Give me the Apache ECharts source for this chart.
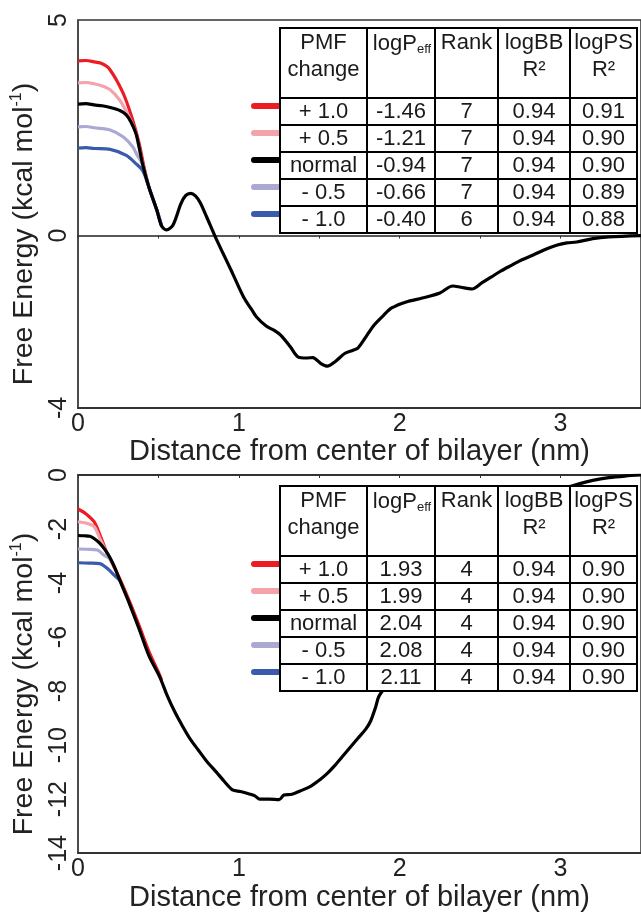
<!DOCTYPE html>
<html>
<head>
<meta charset="utf-8">
<script src="https://cdn.jsdelivr.net/npm/echarts@6/dist/echarts.min.js"></script>
<style>
  html, body { margin: 0; padding: 0; background: #fff; }
  #main { width: 641px; height: 913px; }
</style>
</head>
<body>
<div id="main"></div>
<script>
// ---- curves, [distance nm, free energy kcal/mol] ----
// top panel
const topNormal = [[0,3.05],[0.05,3.06],[0.1,3.03],[0.15,3.01],[0.2,2.97],[0.26,2.9],[0.3,2.8],[0.33,2.63],[0.36,2.37],[0.38,2.05],[0.4,1.68],[0.44,1.13],[0.49,0.59],[0.52,0.22],[0.55,0.13],[0.59,0.24],[0.64,0.74],[0.67,0.93],[0.7,0.98],[0.73,0.92],[0.76,0.76],[0.8,0.43],[0.85,0.0],[0.9,-0.4],[0.96,-0.87],[1.03,-1.43],[1.08,-1.72],[1.11,-1.89],[1.17,-2.1],[1.22,-2.2],[1.26,-2.31],[1.32,-2.58],[1.37,-2.82],[1.42,-2.84],[1.46,-2.83],[1.51,-2.97],[1.55,-3.03],[1.6,-2.92],[1.66,-2.73],[1.71,-2.66],[1.74,-2.61],[1.79,-2.35],[1.84,-2.08],[1.9,-1.85],[1.95,-1.68],[2.04,-1.54],[2.14,-1.45],[2.25,-1.33],[2.33,-1.17],[2.38,-1.2],[2.45,-1.24],[2.51,-1.1],[2.57,-0.96],[2.63,-0.82],[2.7,-0.68],[2.76,-0.56],[2.83,-0.45],[2.9,-0.33],[2.98,-0.22],[3.04,-0.17],[3.1,-0.15],[3.2,-0.07],[3.3,-0.03],[3.5,0]];
const topPlus10 = [[0,4.05],[0.05,4.06],[0.1,4.03],[0.14,4.0],[0.18,3.92],[0.2,3.84],[0.24,3.6],[0.29,3.22],[0.34,2.68],[0.38,2.14],[0.41,1.6],[0.44,1.13],[0.49,0.59],[0.52,0.22]];
const topPlus05 = [[0,3.54],[0.05,3.55],[0.1,3.52],[0.15,3.47],[0.2,3.38],[0.26,3.14],[0.3,2.88],[0.33,2.65],[0.36,2.37],[0.38,2.05],[0.4,1.68],[0.44,1.13],[0.49,0.59],[0.52,0.22]];
const topMinus05 = [[0,2.52],[0.05,2.53],[0.1,2.5],[0.2,2.45],[0.28,2.29],[0.34,2.06],[0.37,1.85],[0.4,1.66],[0.44,1.13],[0.49,0.59],[0.52,0.22]];
const topMinus10 = [[0,2.03],[0.05,2.04],[0.1,2.02],[0.2,2.0],[0.3,1.86],[0.36,1.67],[0.4,1.52],[0.42,1.35],[0.44,1.13],[0.49,0.59],[0.52,0.22]];
// bottom panel
const botNormal = [[0,-2.24],[0.04,-2.25],[0.074,-2.27],[0.1,-2.35],[0.136,-2.53],[0.17,-2.78],[0.2,-3.07],[0.23,-3.45],[0.26,-3.9],[0.32,-4.77],[0.38,-5.7],[0.44,-6.68],[0.51,-7.5],[0.55,-8.1],[0.6,-8.75],[0.65,-9.3],[0.7,-9.8],[0.75,-10.2],[0.8,-10.6],[0.86,-11.0],[0.91,-11.35],[0.96,-11.66],[1.01,-11.72],[1.06,-11.8],[1.1,-11.88],[1.13,-12.0],[1.19,-12.0],[1.25,-12.02],[1.28,-11.85],[1.33,-11.82],[1.38,-11.7],[1.44,-11.55],[1.5,-11.3],[1.55,-11.05],[1.59,-10.8],[1.64,-10.45],[1.69,-10.1],[1.74,-9.75],[1.79,-9.4],[1.82,-9.1],[1.85,-8.6],[1.87,-8.2],[1.91,-7.85],[1.94,-7.6],[2.0,-7.0],[2.1,-6.0],[2.2,-5.0],[2.3,-4.1],[2.4,-3.3],[2.5,-2.6],[2.6,-2.0],[2.7,-1.5],[2.8,-1.1],[2.9,-0.8],[3.0,-0.55],[3.12,-0.32],[3.2,-0.2],[3.3,-0.1],[3.4,-0.04],[3.5,0]];
const botPlus10 = [[0,-1.26],[0.05,-1.44],[0.1,-1.73],[0.14,-2.27],[0.18,-2.89],[0.22,-3.35],[0.26,-3.85],[0.32,-4.68],[0.38,-5.58],[0.44,-6.52],[0.5,-7.3],[0.52,-7.6]];
const botPlus05 = [[0,-1.73],[0.05,-1.78],[0.1,-1.91],[0.136,-2.35],[0.17,-2.78],[0.2,-3.07]];
const botMinus05 = [[0,-2.74],[0.06,-2.75],[0.12,-2.78],[0.16,-2.96],[0.2,-3.12],[0.23,-3.45]];
const botMinus10 = [[0,-3.25],[0.07,-3.26],[0.136,-3.28],[0.19,-3.5],[0.22,-3.68],[0.26,-3.9]];

// ---- table contents ----
const pmfChange = ['+ 1.0', '+ 0.5', 'normal', '- 0.5', '- 1.0'];
const topLogPeff = ['-1.46', '-1.21', '-0.94', '-0.66', '-0.40'];
const topRank = ['7', '7', '7', '7', '6'];
const topLogBB = ['0.94', '0.94', '0.94', '0.94', '0.94'];
const topLogPS = ['0.91', '0.90', '0.90', '0.89', '0.88'];
const botLogPeff = ['1.93', '1.99', '2.04', '2.08', '2.11'];
const botRank = ['4', '4', '4', '4', '4'];
const botLogBB = ['0.94', '0.94', '0.94', '0.94', '0.94'];
const botLogPS = ['0.90', '0.90', '0.90', '0.90', '0.90'];

const colors = ['#ed1c24', '#f5a3aa', '#000000', '#a9a9d4', '#3a5bab'];
const yTopLabels = [5, 0, -4];

const FONT = '"Liberation Sans", Arial, sans-serif';
const chart = echarts.init(document.getElementById('main'));

function curve(data, color, idx, z) {
  return {
    type: 'line', data: data, xAxisIndex: idx * 2, yAxisIndex: idx,
    showSymbol: false, smooth: 0.3, z: z, silent: true,
    lineStyle: { color: color, width: 3.2 }
  };
}

function xAxes(gi) {
  return [{
    gridIndex: gi, type: 'value', min: 0, max: 3.5, interval: 1, position: 'bottom',
    axisLine: { onZero: false, lineStyle: { color: '#333', width: 2 } },
    axisTick: { show: false }, splitLine: { show: false },
    axisLabel: { fontSize: 25, color: '#222', margin: 4, showMaxLabel: false },
    name: 'Distance from center of bilayer (nm)', nameLocation: 'middle', nameGap: gi ? 23 : 26,
    nameTextStyle: { fontSize: 29, color: '#222' }
  }, {
    gridIndex: gi, type: 'value', min: 0, max: 3.5, interval: 0.5, position: 'top',
    axisLine: { onZero: true, lineStyle: { color: '#222', width: 1.5 } },
    axisTick: { inside: true, length: 3, lineStyle: { color: '#333' } },
    axisLabel: { show: false }, splitLine: { show: false }
  }];
}

function yAxis(gi, min, max, interval, fmt) {
  return {
    gridIndex: gi, type: 'value', min: min, max: max, interval: interval,
    axisLine: { onZero: false, lineStyle: { color: '#444', width: 1.5 } },
    axisTick: { show: false }, splitLine: { show: false },
    axisLabel: { rotate: 90, fontSize: 25, color: '#222', margin: 6, formatter: fmt },
    name: '{a|Free Energy (kcal mol}{s|-1}{a|)}', nameLocation: 'middle', nameGap: 32,
    nameTextStyle: {
      color: '#222', padding: [0, 40, 0, 0],
      rich: {
        a: { fontSize: 28.5, lineHeight: 32, color: '#222', fontFamily: FONT },
        s: { fontSize: 16, lineHeight: 18, verticalAlign: 'top', color: '#222', fontFamily: FONT }
      }
    }
  };
}

// table + legend swatches as graphic elements
const colX = [280, 367, 435, 498, 570, 637];
const headH = 70, rowH = 27, txtSize = 22;

function table(top, cols) {
  const els = [];
  const rowTop = i => top + headH + i * rowH;
  // legend swatches
  colors.forEach((c, i) => {
    els.push({ type: 'line', z: 100, shape: { x1: 254, y1: rowTop(i) + 8, x2: 284, y2: rowTop(i) + 8 },
      style: { stroke: c, lineWidth: 6, lineCap: 'round' } });
  });
  // cells
  for (let c = 0; c < 5; c++) {
    const w = colX[c + 1] - colX[c];
    els.push({ type: 'rect', z: 101, shape: { x: colX[c], y: top, width: w, height: headH },
      style: { fill: '#fff', stroke: '#000', lineWidth: 2 } });
    for (let r = 0; r < 5; r++) {
      els.push({ type: 'rect', z: 101, shape: { x: colX[c], y: rowTop(r), width: w, height: rowH },
        style: { fill: '#fff', stroke: '#000', lineWidth: 2 } });
    }
  }
  const cx = c => (colX[c] + colX[c + 1]) / 2;
  const txt = (x, y, t, rich) => ({
    type: 'text', z: 102, x: x, y: y,
    style: { text: t, fontSize: txtSize, fontFamily: FONT, fill: '#1a1a1a', align: 'center', verticalAlign: 'middle', rich: rich }
  });
  els.push(txt(cx(0), top + 15, 'PMF'));
  els.push(txt(cx(0), top + 42, 'change'));
  els.push(txt(cx(1) + 1, top + 16, '{m|logP}{s|eff}', {
    m: { fontSize: txtSize, lineHeight: 24, fontFamily: FONT, fill: '#1a1a1a' },
    s: { fontSize: 13, lineHeight: 13, verticalAlign: 'bottom', fontFamily: FONT, fill: '#1a1a1a' }
  }));
  els.push(txt(cx(2), top + 15, 'Rank'));
  els.push(txt(cx(3), top + 15, 'logBB'));
  els.push(txt(cx(3), top + 42, 'R\u00b2'));
  els.push(txt(cx(4), top + 15, 'logPS'));
  els.push(txt(cx(4), top + 42, 'R\u00b2'));
  cols.forEach((arr, c) => {
    arr.forEach((v, r) => els.push(txt(cx(c), rowTop(r) + 14, v)));
  });
  return els;
}

const option = {
  animation: false,
  backgroundColor: '#fff',
  textStyle: { fontFamily: FONT },
  grid: [
    { left: 78, top: 20, width: 567, height: 388, show: true, borderColor: '#333', borderWidth: 1.5, backgroundColor: 'transparent' },
    { left: 78, top: 475, width: 567, height: 388, show: true, borderColor: '#333', borderWidth: 1.5, backgroundColor: 'transparent' }
  ],
  xAxis: xAxes(0).concat(xAxes(1)),
  yAxis: [
    yAxis(0, -4, 5, 1, v => (yTopLabels.indexOf(v) >= 0 ? String(v) : '')),
    yAxis(1, -14, 0, 2, v => String(v))
  ],
  series: [
    curve(topPlus10, colors[0], 0, 2), curve(topPlus05, colors[1], 0, 2),
    curve(topMinus05, colors[3], 0, 2), curve(topMinus10, colors[4], 0, 2),
    curve(topNormal, colors[2], 0, 3),
    curve(botPlus10, colors[0], 1, 2), curve(botPlus05, colors[1], 1, 2),
    curve(botMinus05, colors[3], 1, 2), curve(botMinus10, colors[4], 1, 2),
    curve(botNormal, colors[2], 1, 3)
  ],
  graphic: table(28, [pmfChange, topLogPeff, topRank, topLogBB, topLogPS])
    .concat(table(486, [pmfChange, botLogPeff, botRank, botLogBB, botLogPS]))
};

chart.setOption(option);
</script>
</body>
</html>
